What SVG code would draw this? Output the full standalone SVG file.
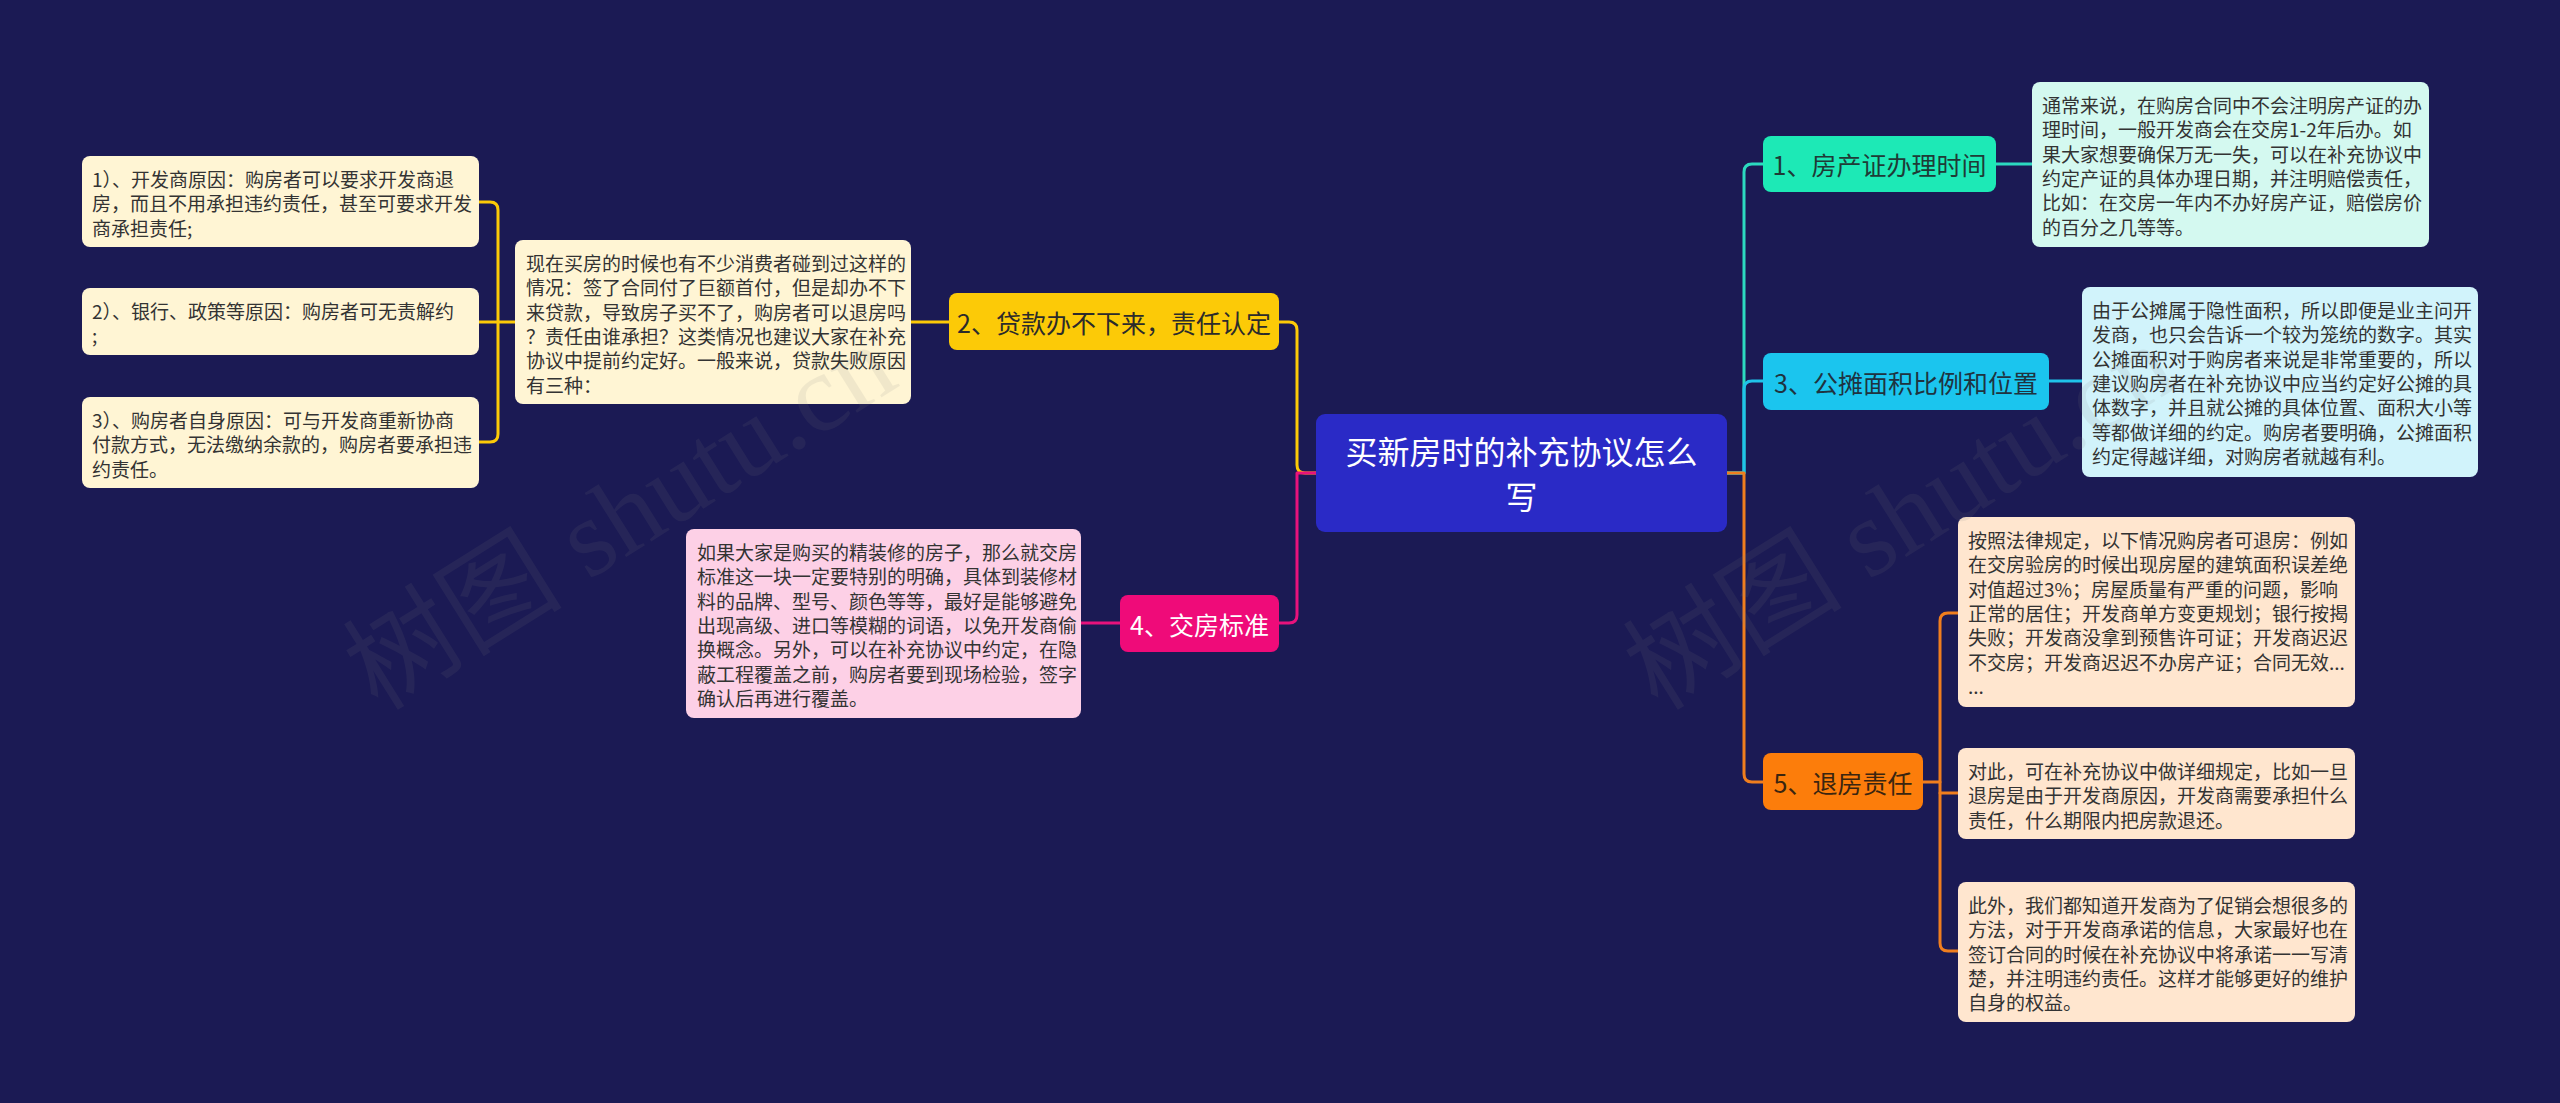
<svg xmlns="http://www.w3.org/2000/svg" width="2560" height="1103" viewBox="0 0 2560 1103">
<defs>
<style>
.bg{fill:#1b1a54}
.t{font-family:"Noto Sans CJK SC","Noto Sans",sans-serif;font-size:19px;fill:#333333;dominant-baseline:central}
.nt{font-family:"Noto Sans CJK SC","Noto Sans",sans-serif;font-size:25px;dominant-baseline:central;text-anchor:middle}
.ct{font-family:"Noto Sans CJK SC","Noto Sans",sans-serif;font-size:32px;fill:#ffffff;dominant-baseline:central;text-anchor:middle}
.c{fill:none;stroke-width:3;stroke-linecap:round;stroke-linejoin:round}
.wm{font-family:"Liberation Serif","Noto Sans CJK SC",serif;font-size:110px;fill:#808080;opacity:0.11}
</style>
</defs>
<rect class="bg" x="0" y="0" width="2560" height="1103"/>

<g id="connectors">
<path class="c" stroke="#fcca07" d="M1316,473 H1305 Q1297,473 1297,465 V330 Q1297,322 1289,322 H1279"/>
<path class="c" stroke="#e8127c" d="M1316,473 H1297 V615 Q1297,623 1289,623 H1279"/>
<path class="c" stroke="#fcca07" d="M949,322 H911"/>
<path class="c" stroke="#fcca07" d="M515,322 H479"/>
<path class="c" stroke="#fcca07" d="M479,202 H490 Q498,202 498,210 V434 Q498,442 490,442 H479"/>
<path class="c" stroke="#e8127c" d="M1120,623 H1081"/>
<path class="c" stroke="#2cd9c0" d="M1727,473 H1744 V172 Q1744,164 1752,164 H1763"/>
<path class="c" stroke="#1fc3ea" d="M1727,473 H1744 V389 Q1744,381 1752,381 H1763"/>
<path class="c" stroke="#f07e1e" d="M1727,473 H1744 V774 Q1744,782 1752,782 H1763"/>
<path class="c" stroke="#2cd9c0" d="M1996,164 H2032"/>
<path class="c" stroke="#1fc3ea" d="M2049,381 H2082"/>
<path class="c" stroke="#f07e1e" d="M1923,782 H1940"/>
<path class="c" stroke="#f07e1e" d="M1958,613 H1948 Q1940,613 1940,621 V943 Q1940,951 1948,951 H1958"/>
<path class="c" stroke="#f07e1e" d="M1940,793 H1958"/>
</g>

<g id="center">
<rect x="1316" y="414" width="411" height="118" rx="9" fill="#2a2ac6"/>
<text class="ct" x="1521.5" y="450">买新房时的补充协议怎么</text>
<text class="ct" x="1521.5" y="495">写</text>
</g>

<g id="n2">
<rect x="949" y="293" width="330" height="57" rx="8" fill="#fcca07"/>
<text class="nt" x="1114" y="321.5" fill="#2b2b2b">2、贷款办不下来，责任认定</text>
</g>
<g id="n2-text">
<rect x="515" y="240" width="396" height="164" rx="8" fill="#fff5d4"/>
<text class="t"><tspan x="526" y="262">现在买房的时候也有不少消费者碰到过这样的</tspan><tspan x="526" y="286.3">情况：签了合同付了巨额首付，但是却办不下</tspan><tspan x="526" y="310.6">来贷款，导致房子买不了，购房者可以退房吗</tspan><tspan x="526" y="334.9">？责任由谁承担？这类情况也建议大家在补充</tspan><tspan x="526" y="359.2">协议中提前约定好。一般来说，贷款失败原因</tspan><tspan x="526" y="383.5">有三种：</tspan></text>
</g>
<g id="n2-a">
<rect x="82" y="156" width="397" height="91" rx="8" fill="#fff5d4"/>
<text class="t"><tspan x="92" y="178">1）、开发商原因：购房者可以要求开发商退</tspan><tspan x="92" y="202.3">房，而且不用承担违约责任，甚至可要求开发</tspan><tspan x="92" y="226.6">商承担责任;</tspan></text>
</g>
<g id="n2-b">
<rect x="82" y="288" width="397" height="67" rx="8" fill="#fff5d4"/>
<text class="t"><tspan x="92" y="310">2）、银行、政策等原因：购房者可无责解约</tspan><tspan x="92" y="334.3">;</tspan></text>
</g>
<g id="n2-c">
<rect x="82" y="397" width="397" height="91" rx="8" fill="#fff5d4"/>
<text class="t"><tspan x="92" y="419">3）、购房者自身原因：可与开发商重新协商</tspan><tspan x="92" y="443.3">付款方式，无法缴纳余款的，购房者要承担违</tspan><tspan x="92" y="467.6">约责任。</tspan></text>
</g>

<g id="n4">
<rect x="1120" y="595" width="159" height="57" rx="8" fill="#ef0b79"/>
<text class="nt" x="1199.5" y="623.5" fill="#ffffff">4、交房标准</text>
</g>
<g id="n4-text">
<rect x="686" y="529" width="395" height="189" rx="8" fill="#fdd0e6"/>
<text class="t"><tspan x="697" y="551">如果大家是购买的精装修的房子，那么就交房</tspan><tspan x="697" y="575.3">标准这一块一定要特别的明确，具体到装修材</tspan><tspan x="697" y="599.6">料的品牌、型号、颜色等等，最好是能够避免</tspan><tspan x="697" y="623.9">出现高级、进口等模糊的词语，以免开发商偷</tspan><tspan x="697" y="648.2">换概念。另外，可以在补充协议中约定，在隐</tspan><tspan x="697" y="672.5">蔽工程覆盖之前，购房者要到现场检验，签字</tspan><tspan x="697" y="696.8">确认后再进行覆盖。</tspan></text>
</g>

<g id="n1">
<rect x="1763" y="136" width="233" height="56" rx="8" fill="#1de9b6"/>
<text class="nt" x="1879.5" y="164" fill="#1f3b36">1、房产证办理时间</text>
</g>
<g id="n1-text">
<rect x="2032" y="82" width="397" height="165" rx="8" fill="#d4f9f0"/>
<text class="t"><tspan x="2042" y="104">通常来说，在购房合同中不会注明房产证的办</tspan><tspan x="2042" y="128.3">理时间，一般开发商会在交房1-2年后办。如</tspan><tspan x="2042" y="152.6">果大家想要确保万无一失，可以在补充协议中</tspan><tspan x="2042" y="176.9">约定产证的具体办理日期，并注明赔偿责任，</tspan><tspan x="2042" y="201.2">比如：在交房一年内不办好房产证，赔偿房价</tspan><tspan x="2042" y="225.5">的百分之几等等。</tspan></text>
</g>

<g id="n3">
<rect x="1763" y="353" width="286" height="57" rx="8" fill="#1bc5ee"/>
<text class="nt" x="1906" y="381.5" fill="#1f3340">3、公摊面积比例和位置</text>
</g>
<g id="n3-text">
<rect x="2082" y="287" width="396" height="190" rx="8" fill="#d1f3fb"/>
<text class="t"><tspan x="2092" y="309">由于公摊属于隐性面积，所以即便是业主问开</tspan><tspan x="2092" y="333.3">发商，也只会告诉一个较为笼统的数字。其实</tspan><tspan x="2092" y="357.6">公摊面积对于购房者来说是非常重要的，所以</tspan><tspan x="2092" y="381.9">建议购房者在补充协议中应当约定好公摊的具</tspan><tspan x="2092" y="406.2">体数字，并且就公摊的具体位置、面积大小等</tspan><tspan x="2092" y="430.5">等都做详细的约定。购房者要明确，公摊面积</tspan><tspan x="2092" y="454.8">约定得越详细，对购房者就越有利。</tspan></text>
</g>

<g id="n5">
<rect x="1763" y="753" width="160" height="57" rx="8" fill="#fc7d0b"/>
<text class="nt" x="1843" y="781.5" fill="#3a2510">5、退房责任</text>
</g>
<g id="n5-a">
<rect x="1958" y="517" width="397" height="190" rx="8" fill="#ffe6cf"/>
<text class="t"><tspan x="1968" y="539">按照法律规定，以下情况购房者可退房：例如</tspan><tspan x="1968" y="563.3">在交房验房的时候出现房屋的建筑面积误差绝</tspan><tspan x="1968" y="587.6">对值超过3%；房屋质量有严重的问题，影响</tspan><tspan x="1968" y="611.9">正常的居住；开发商单方变更规划；银行按揭</tspan><tspan x="1968" y="636.2">失败；开发商没拿到预售许可证；开发商迟迟</tspan><tspan x="1968" y="660.5">不交房；开发商迟迟不办房产证；合同无效...</tspan><tspan x="1968" y="684.8">...</tspan></text>
</g>
<g id="n5-b">
<rect x="1958" y="748" width="397" height="91" rx="8" fill="#ffe6cf"/>
<text class="t"><tspan x="1968" y="770">对此，可在补充协议中做详细规定，比如一旦</tspan><tspan x="1968" y="794.3">退房是由于开发商原因，开发商需要承担什么</tspan><tspan x="1968" y="818.6">责任，什么期限内把房款退还。</tspan></text>
</g>
<g id="n5-c">
<rect x="1958" y="882" width="397" height="140" rx="8" fill="#ffe6cf"/>
<text class="t"><tspan x="1968" y="904">此外，我们都知道开发商为了促销会想很多的</tspan><tspan x="1968" y="928.3">方法，对于开发商承诺的信息，大家最好也在</tspan><tspan x="1968" y="952.6">签订合同的时候在补充协议中将承诺一一写清</tspan><tspan x="1968" y="976.9">楚，并注明违约责任。这样才能够更好的维护</tspan><tspan x="1968" y="1001.2">自身的权益。</tspan></text>
</g>

<g id="watermark">
<text class="wm" transform="translate(378,712) rotate(-32)">树图 shutu.cn</text>
<text class="wm" transform="translate(1658,712) rotate(-32)">树图 shutu.cn</text>
</g>
</svg>
